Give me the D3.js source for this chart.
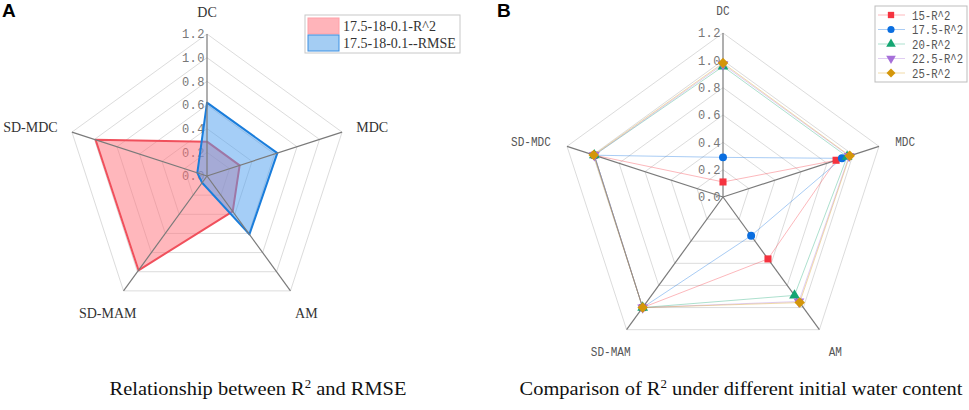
<!DOCTYPE html>
<html>
<head>
<meta charset="utf-8">
<script src="https://cdn.jsdelivr.net/npm/d3@7/dist/d3.min.js"></script>
<style>
  body { margin: 0; background: #fff; }
  svg { display: block; }
</style>
</head>
<body>
<svg id="chart" width="969" height="410"></svg>
<script>
// axes and ticks shared by both radars
var axisNames = ["DC", "MDC", "AM", "SD-MAM", "SD-MDC"];
var tickValues = [0, 0.2, 0.4, 0.6, 0.8, 1.0, 1.2];
var tickLabels = ["0.0", "0.2", "0.4", "0.6", "0.8", "1.0", "1.2"];

// panel A
var aSeriesNames = ["17.5-18-0.1-R^2", "17.5-18-0.1--RMSE"];
var aR2 = [0.29, 0.29, 0.37, 0.985, 0.99];
var aRMSE = [0.62, 0.625, 0.61, 0.07, 0.086];

// panel B
var bSeriesNames = ["15-R^2", "17.5-R^2", "20-R^2", "22.5-R^2", "25-R^2"];
var b15 = [0.11, 0.87, 0.56, 1.0, 0.99];
var b175 = [0.29, 0.915, 0.35, 1.0, 0.99];
var b20 = [0.955, 0.955, 0.89, 1.0, 0.99];
var b225 = [0.97, 0.97, 0.945, 1.0, 0.99];
var b25 = [0.98, 0.975, 0.955, 1.0, 0.995];

var svg = d3.select("#chart");
var n = axisNames.length;
var ang = function(i) { return i * 2 * Math.PI / n; };

function drawFrame(g, R, opt) {
    var r = d3.scaleLinear().domain([0, 1.2]).range([0, R]);
    var ring = d3.lineRadial()
        .angle(function(d, i) { return ang(i); })
        .radius(function(d) { return r(d); })
        .curve(d3.curveLinearClosed);

    // grid rings
    g.selectAll(".ring")
        .data(tickValues.slice(1))
        .enter().append("path")
        .attr("class", "ring")
        .attr("d", function(v) { return ring(axisNames.map(function() { return v; })); })
        .attr("fill", "none")
        .attr("stroke", "#dcdcdc")
        .attr("stroke-width", 1);

    // tick labels
    g.selectAll(".tick")
        .data(tickValues)
        .enter().append("text")
        .attr("x", -2)
        .attr("y", function(v) { return -r(v); })
        .attr("dy", "0.35em")
        .attr("text-anchor", "end")
        .style("font-family", "'Liberation Mono', monospace")
        .style("font-size", "12px")
        .style("letter-spacing", "0.5px")
        .attr("fill", "#777")
        .text(function(v, i) { return tickLabels[i]; });

    // axis labels
    g.selectAll(".axlab")
        .data(axisNames)
        .enter().append("text")
        .attr("transform", function(d, i) {
            var a = ang(i), d0 = i == 0 ? opt.topOff : (i == 1 || i == 4 ? opt.sideOff : opt.botOff);
            var x = Math.sin(a) * (R + d0), y = -Math.cos(a) * (R + d0);
            return "translate(" + x + "," + y + ") scale(" + opt.sx + ",1)";
        })
        .attr("dy", "0.35em")
        .attr("text-anchor", function(d, i) { return i == 1 ? "start" : (i == 4 ? "end" : "middle"); })
        .style("font-family", opt.font)
        .style("font-size", opt.size)
        .attr("fill", opt.color)
        .text(function(d) { return d; });
    return r;
}

function drawAxes(g, r) {
    g.selectAll(".axis")
        .data(axisNames)
        .enter().append("line")
        .attr("x1", 0).attr("y1", 0)
        .attr("x2", function(d, i) { return Math.sin(ang(i)) * r(1.2); })
        .attr("y2", function(d, i) { return -Math.cos(ang(i)) * r(1.2); })
        .attr("stroke", "#7a7a7a")
        .attr("stroke-width", 1.2);
}

// ---------- panel A ----------
var gA = svg.append("g").attr("transform", "translate(207,176)");
var rA = drawFrame(gA, 142, {topOff: 22, sideOff: 15, botOff: 27, sx: 1,
    font: "'Liberation Serif', serif", size: "14px", color: "#333"});

var areaA = d3.lineRadial()
    .angle(function(d, i) { return ang(i); })
    .radius(function(d) { return rA(d); })
    .curve(d3.curveLinearClosed);

var aColors = [{fill: "#ff6f7a", stroke: "#f0505c"}, {fill: "#4b9df0", stroke: "#1a7ddb"}];
[aR2, aRMSE].forEach(function(vals, k) {
    gA.append("path")
        .attr("d", areaA(vals))
        .attr("fill", aColors[k].fill)
        .attr("fill-opacity", 0.5)
        .attr("stroke", aColors[k].stroke)
        .attr("stroke-width", 2)
        .attr("stroke-linejoin", "round");
});
drawAxes(gA, rA);

// legend A
var legA = svg.append("g").attr("transform", "translate(305,15)");
legA.append("rect").attr("width", 155).attr("height", 38)
    .attr("fill", "#fff").attr("stroke", "#c8c8c8");
var swA = [{fill: "#ffb4ba", stroke: "#ffa0a8"}, {fill: "#a4cdf3", stroke: "#3d90e2"}];
aSeriesNames.forEach(function(name, k) {
    legA.append("rect").attr("x", 3).attr("y", 3 + k * 17)
        .attr("width", 31).attr("height", 16)
        .attr("fill", swA[k].fill).attr("stroke", swA[k].stroke);
    legA.append("text").attr("x", 38).attr("y", 11 + k * 17).attr("dy", "0.35em")
        .style("font-family", "'Liberation Serif', serif").style("font-size", "14px")
        .attr("fill", "#333").text(name);
});

// ---------- panel B ----------
var gB = svg.append("g").attr("transform", "translate(723,197)");
var rB = drawFrame(gB, 164, {topOff: 23, sideOff: 17, botOff: 27, sx: 0.85,
    font: "'Liberation Mono', monospace", size: "13px", color: "#555"});
drawAxes(gB, rB);

var bData = [b15, b175, b20, b225, b25];
var bColors = ["#f5333f", "#0a6ee0", "#15a673", "#a66fd9", "#d4960a"];
var bSymbols = [d3.symbolSquare, d3.symbolCircle, d3.symbolTriangle, d3.symbolTriangle, d3.symbolSquare];
var bRotate = [0, 0, 0, 180, 45];

var lineB = d3.lineRadial()
    .angle(function(d, i) { return ang(i); })
    .radius(function(d) { return rB(d); })
    .curve(d3.curveLinearClosed);

bData.forEach(function(vals, k) {
    gB.append("path")
        .attr("d", lineB(vals))
        .attr("fill", "none")
        .attr("stroke", bColors[k])
        .attr("stroke-opacity", 0.35)
        .attr("stroke-width", 1);
});
bData.forEach(function(vals, k) {
    gB.selectAll(".m" + k)
        .data(vals)
        .enter().append("path")
        .attr("d", d3.symbol().type(bSymbols[k]).size(k == 4 ? 55 : 50))
        .attr("transform", function(d, i) {
            return "translate(" + Math.sin(ang(i)) * rB(d) + "," + (-Math.cos(ang(i)) * rB(d)) + ") rotate(" + bRotate[k] + ")";
        })
        .attr("fill", bColors[k]);
});

// legend B
var legB = svg.append("g").attr("transform", "translate(875,6)");
legB.append("rect").attr("width", 92).attr("height", 76)
    .attr("fill", "#fff").attr("stroke", "#bdbdbd");
bSeriesNames.forEach(function(name, k) {
    var y = 9 + k * 14.5;
    legB.append("line").attr("x1", 3).attr("x2", 30).attr("y1", y).attr("y2", y)
        .attr("stroke", bColors[k]).attr("stroke-opacity", 0.35);
    legB.append("path")
        .attr("d", d3.symbol().type(bSymbols[k]).size(40))
        .attr("transform", "translate(16," + y + ") rotate(" + bRotate[k] + ")")
        .attr("fill", bColors[k]);
    legB.append("text")
        .attr("transform", "translate(37," + y + ") scale(0.82,1)")
        .attr("dy", "0.35em")
        .style("font-family", "'Liberation Mono', monospace").style("font-size", "13px")
        .attr("fill", "#555").text(name);
});

// panel letters
svg.append("text").attr("x", 2).attr("y", 17)
    .style("font-family", "'Liberation Sans', Arial, sans-serif").style("font-size", "19px")
    .style("font-weight", "bold").text("A");
svg.append("text").attr("x", 497).attr("y", 17)
    .style("font-family", "'Liberation Sans', Arial, sans-serif").style("font-size", "19px")
    .style("font-weight", "bold").text("B");

// captions, squeezed horizontally to the width they take in the figure
function caption(x, width, before, after) {
    var g = svg.append("g");
    var t = g.append("text")
        .attr("text-anchor", "middle")
        .style("font-family", "'Liberation Serif', serif").style("font-size", "19px")
        .attr("fill", "#111");
    t.append("tspan").text(before + "R");
    t.append("tspan").attr("dy", -7).style("font-size", "12px").text("2");
    t.append("tspan").attr("dy", 7).text(after);
    var w = t.node().getBBox().width;
    g.attr("transform", "translate(" + x + ",395) scale(" + (width / w) + ",1)");
}
caption(258, 297, "Relationship between ", " and RMSE");
caption(741, 444, "Comparison of ", " under different initial water content");
</script>
</body>
</html>
